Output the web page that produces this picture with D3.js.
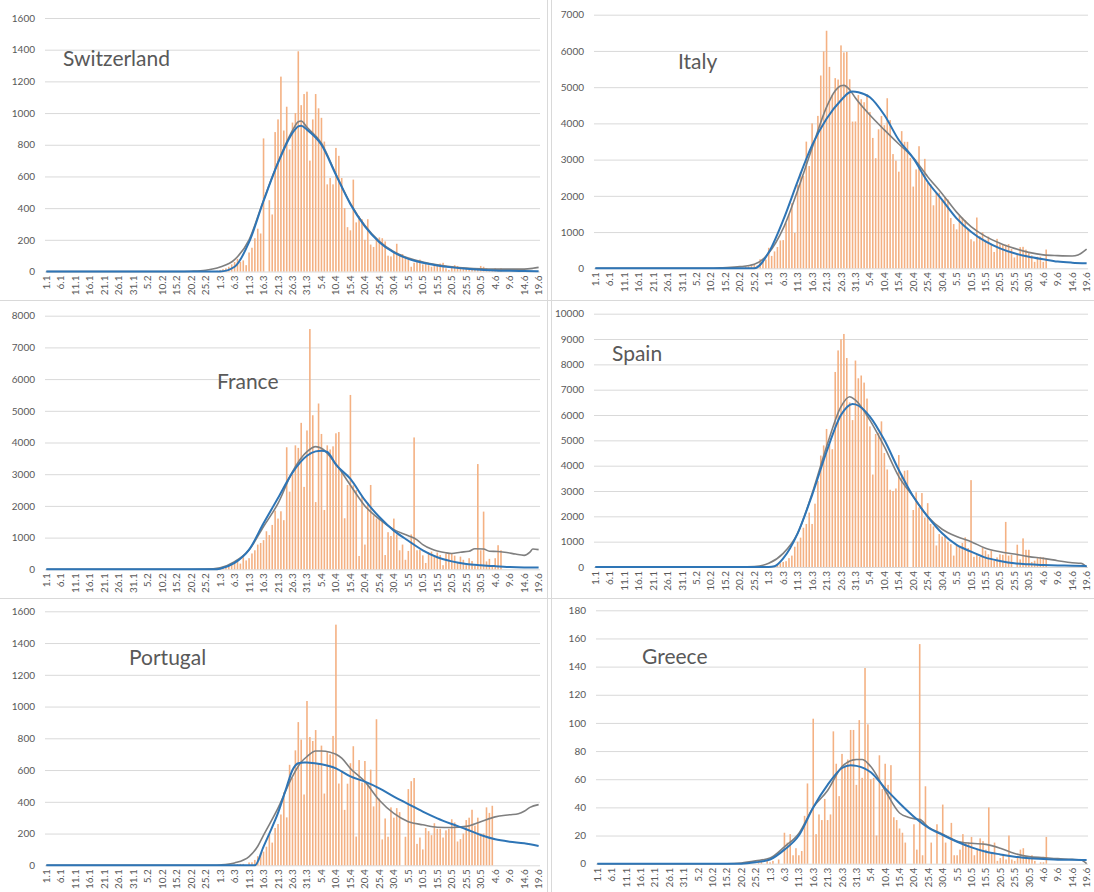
<!DOCTYPE html>
<html>
<head>
<meta charset="utf-8">
<script src="https://cdn.jsdelivr.net/npm/d3@7"></script>
<style>
  body { margin: 0; background: #fff; }
  text { font-family: Lato, "Open Sans", sans-serif; fill: #595959; }
</style>
</head>
<body>
<svg id="chart" width="1094" height="892"></svg>
<script>
// Categories: one per day, 1.1 to 19.6 (2020)
var days = d3.timeDay.range(new Date(2020, 0, 1), new Date(2020, 5, 20)).map(d3.timeFormat("%-d.%-m"));

var xTicks = ["1.1","6.1","11.1","16.1","21.1","26.1","31.1","5.2","10.2","15.2","20.2","25.2",
  "1.3","6.3","11.3","16.3","21.3","26.3","31.3","5.4","10.4","15.4","20.4","25.4","30.4",
  "5.5","10.5","15.5","20.5","25.5","30.5","4.6","9.6","14.6","19.6"];

// daily bars start on this day
var barStart = "20.2";

// ---- Switzerland
var swissBars = [0,0,0,0,0, 1,0,2,3,5, 10,15,20,30,45, 60,80,60,70,40, 120,150,210,270,240,
  840,0,450,360,880, 960,1230,890,1040,770, 940,1000,1390,1050,1120, 1135,700,960,1120,1030,
  970,820,550,590,550, 780,730,590,400,280, 260,580,310,350,330, 200,330,170,155,205,
  215,210,190,100,95, 120,175,110,110,85, 75,30,55,70,75, 45,55,40,30,45,
  40,50,55,20,10, 35,40,35,20,15, 15,10,15,10,15, 35,30,20,10,15, 20,15,20];
var swissAvg = [["1.1",0],["15.2",0],["20.2",2],["25.2",8],["1.3",28],["6.3",75],["11.3",200],["16.3",450],
  ["21.3",690],["26.3",890],["28.3",945],["29.3",950],["31.3",910],["5.4",810],["10.4",615],["15.4",430],
  ["20.4",290],["25.4",190],["30.4",125],["5.5",85],["10.5",60],["15.5",42],["20.5",30],["25.5",22],
  ["30.5",17],["4.6",15],["9.6",15],["14.6",15],["17.6",20],["19.6",26]];
var swissFit = [["1.1",0],["26.2",0],["1.3",0],["6.3",30],["11.3",185],["16.3",445],["21.3",685],["26.3",875],
  ["28.3",916],["29.3",920],["31.3",895],["5.4",800],["10.4",610],["15.4",425],["20.4",285],["25.4",185],
  ["30.4",120],["5.5",80],["10.5",55],["15.5",38],["20.5",26],["25.5",17],["30.5",11],["4.6",7],["9.6",4],
  ["14.6",3],["19.6",2]];

// ---- Italy
var italyBars = [0,17,62,55,71, 93,78,250,238,240, 566,342,466,587,769, 778,1247,1492,1797,977,
  2313,2651,2547,3497,2823, 4000,3526,4207,5322,5986, 6557,5560,4789,5249,5210, 6153,5959,5974,5217,4050,
  4053,4782,4668,4585,4805, 4316,3599,3039,3836,4204, 3951,4694,4092,3153,2972, 2667,3786,3493,3491,3047,
  2256,2729,3370,2646,3021, 2357,2324,1739,2091,2086, 1872,1965,1900,1389,1221, 1075,1444,1401,1327,1083,
  802,744,1402,888,992, 789,875,675,451,813, 665,642,652,669,531, 300,397,584,593,516,
  416,355,178,318,321, 177,518];
var italyAvg = [["1.1",0],["10.2",0],["13.2",15],["20.2",45],["25.2",110],["1.3",420],["6.3",1100],["11.3",2150],
  ["16.3",3320],["21.3",4450],["24.3",4900],["26.3",5040],["27.3",5050],["29.3",4930],["31.3",4700],["5.4",4230],
  ["10.4",3820],["15.4",3430],["20.4",3050],["25.4",2530],["30.4",2060],["5.5",1550],["10.5",1150],["15.5",880],
  ["20.5",690],["25.5",550],["30.5",440],["4.6",370],["9.6",350],["14.6",340],["16.6",370],["19.6",530]];
var italyFit = [["1.1",0],["25.2",0],["1.3",440],["6.3",1330],["11.3",2400],["16.3",3400],["21.3",4130],
  ["26.3",4640],["29.3",4860],["30.3",4880],["1.4",4860],["5.4",4720],["10.4",4230],["15.4",3540],["20.4",3040],
  ["25.4",2390],["30.4",1890],["5.5",1380],["10.5",1010],["15.5",740],["20.5",550],["25.5",414],["30.5",320],
  ["4.6",250],["9.6",185],["14.6",155],["19.6",140]];

// ---- France
var franceBars = [0,0,0,0,2, 4,20,38,20,40, 30,60,80,90,150, 200,300,180,380,280,
  350,500,600,780,830, 920,1200,1080,1400,1850, 1600,1830,1550,3850,2450, 3000,3910,3830,4620,2600,
  4380,7580,4860,2120,5230, 4270,1870,3910,3780,3880, 4290,4330,3100,1610,2660, 5500,2650,2500,420,2300,
  780,2100,2660,1700,1600, 1600,1500,450,1170,1050, 1600,1100,600,780,300, 580,1100,4160,600,620,
  440,200,540,560,400, 530,450,130,500,480, 500,430,200,400,300, 130,350,260,110,3320,
  600,1820,250,330,100, 350,760,600];
var franceAvg = [["1.1",0],["20.2",0],["25.2",5],["1.3",50],["6.3",240],["11.3",610],["16.3",1350],["21.3",2080],
  ["26.3",3080],["31.3",3710],["3.4",3870],["5.4",3820],["10.4",3320],["15.4",2650],["20.4",2000],["25.4",1580],
  ["30.4",1250],["5.5",1060],["8.5",930],["10.5",780],["13.5",640],["15.5",580],["18.5",520],["20.5",500],
  ["23.5",540],["26.5",570],["28.5",650],["31.5",640],["2.6",570],["5.6",560],["8.6",530],["11.6",480],
  ["14.6",440],["16.6",540],["17.6",640],["19.6",620]];
var franceFit = [["1.1",0],["28.2",0],["1.3",20],["6.3",200],["11.3",620],["16.3",1450],["21.3",2250],["26.3",3050],
  ["31.3",3580],["3.4",3720],["5.4",3740],["7.4",3700],["10.4",3300],["15.4",2850],["20.4",2180],["25.4",1650],
  ["30.4",1220],["5.5",900],["10.5",600],["15.5",380],["20.5",250],["25.5",170],["30.5",130],["4.6",100],
  ["9.6",75],["14.6",60],["19.6",55]];

// ---- Spain
var spainBars = [0,0,0,0,0, 2,5,5,10,15, 30,40,50,100,150, 200,230,350,450,800,
  1000,1160,1550,1700,2150, 1700,2500,3400,4400,4800, 5450,4850,4650,7700,8550, 8990,9200,8250,6500,5800,
  8150,7450,7560,7280,6650, 5550,3650,5250,5300,5750, 4500,3850,3050,3000,3100, 4420,3650,3800,3820,0,
  2250,2950,2350,2920,1950, 2520,1700,1600,850,1300, 1200,1250,1000,900,450, 850,820,950,1170,750,
  3430,400,500,400,750, 650,500,650,250,380, 500,480,1780,450,480, 0,880,300,1130,680,
  680,200,250,350,400, 380,350,0];
var spainAvg = [["1.1",0],["15.2",0],["25.2",20],["1.3",145],["6.3",540],["11.3",1330],["16.3",2900],["21.3",4750],
  ["26.3",6330],["29.3",6720],["31.3",6590],["5.4",5800],["10.4",4750],["15.4",3570],["20.4",2780],["25.4",1990],
  ["30.4",1490],["5.5",1200],["10.5",1000],["15.5",740],["20.5",605],["25.5",510],["30.5",410],["4.6",340],
  ["9.6",250],["14.6",170],["17.6",145],["19.6",0]];
var spainFit = [["1.1",0],["1.3",0],["3.3",30],["6.3",340],["11.3",1330],["16.3",2840],["21.3",4550],["26.3",6000],
  ["30.3",6440],["31.3",6420],["5.4",5940],["10.4",5010],["15.4",3830],["20.4",2780],["25.4",1990],["30.4",1330],
  ["5.5",870],["10.5",605],["15.5",370],["20.5",240],["25.5",145],["30.5",105],["4.6",80],["9.6",60],
  ["14.6",50],["19.6",40]];

// ---- Portugal
var portugalBars = [0,0,0,0,0, 0,0,0,0,0, 0,2,2,2,3, 4,8,9,9,2,
  18,19,34,57,76, 86,117,194,143,235, 260,320,460,302,633, 549,724,902,792,446,
  1035,808,783,852,638, 754,452,712,699,815, 1516,515,598,349,514, 643,750,181,663,521,
  657,516,603,371,920, 420,163,295,180,365, 300,360,335,0,180, 480,530,550,135,175,
  100,235,215,190,265, 230,230,175,220,230, 290,270,150,165,200, 285,300,350,250,300,
  200,200,365,330,375];
var portugalAvg = [["1.1",0],["28.2",0],["1.3",2],["6.3",15],["11.3",55],["14.3",120],["16.3",190],["21.3",360],
  ["26.3",560],["29.3",650],["31.3",685],["3.4",720],["5.4",720],["8.4",712],["10.4",700],["12.4",675],
  ["15.4",610],["20.4",527],["25.4",410],["30.4",327],["5.5",275],["10.5",255],["15.5",240],["20.5",238],
  ["25.5",245],["30.5",275],["4.6",305],["9.6",318],["12.6",325],["14.6",340],["16.6",365],["19.6",382]];
var portugalFit = [["1.1",0],["13.3",0],["16.3",118],["18.3",200],["21.3",330],["24.3",495],["26.3",600],
  ["28.3",643],["30.3",648],["31.3",647],["5.4",636],["10.4",611],["15.4",560],["20.4",527],["25.4",485],
  ["30.4",433],["5.5",386],["10.5",338],["15.5",296],["20.5",260],["25.5",227],["30.5",191],["4.6",164],
  ["9.6",149],["14.6",139],["19.6",122]];

// ---- Greece
var greeceBars = [0,0,0,0,0, 0,1,2,0,3, 1,2,0,3,0, 22,15,21,6,11,
  6,9,34,57,0, 103,21,35,31,46, 31,35,94,71,48, 78,69,74,95,95,
  56,102,61,139,99, 60,61,20,77,53, 71,56,70,33,31, 25,22,15,0,0,
  28,10,156,6,55, 0,15,0,28,0, 42,15,0,29,6, 6,10,21,15,15,
  19,6,10,18,16, 10,40,8,15,2, 4,7,3,20,3, 2,5,10,11,4,
  4,6,2,0,1, 1,19];
var greeceAvg = [["1.1",0],["15.2",0],["20.2",0.5],["25.2",2],["1.3",4],["6.3",12],["11.3",21.5],["16.3",40],
  ["21.3",52],["26.3",69],["31.3",74],["2.4",74],["5.4",69],["10.4",52],["15.4",36],["18.4",33],["20.4",32],
  ["22.4",31.5],["25.4",26],["30.4",21],["5.5",16],["10.5",14.5],["15.5",13.7],["20.5",11],["25.5",7.3],
  ["30.5",5],["4.6",4.3],["9.6",3.6],["14.6",3.1],["17.6",2.6],["19.6",0]];
var greeceFit = [["1.1",0],["20.2",0],["25.2",1],["1.3",3],["6.3",10],["11.3",20],["16.3",40],["21.3",56],
  ["26.3",68],["29.3",70],["31.3",69.5],["5.4",65],["10.4",53.5],["15.4",43],["20.4",33.4],["25.4",25.6],
  ["30.4",20.4],["5.5",15.6],["10.5",11.6],["15.5",8.5],["20.5",6.6],["25.5",5],["30.5",3.8],["4.6",3.3],
  ["9.6",2.8],["14.6",2.8],["19.6",2.6]];

// panel table
var panels = [
  {name: "Switzerland", bars: swissBars, avg: swissAvg, fit: swissFit, yMax: 1600, yStep: 200,
   left: 45, right: 540, top: 18, bottom: 271.5, titleX: 63, titleY: 66},
  {name: "Italy", bars: italyBars, avg: italyAvg, fit: italyFit, yMax: 7000, yStep: 1000,
   left: 594, right: 1088, top: 14.7, bottom: 268.3, titleX: 678, titleY: 69},
  {name: "France", bars: franceBars, avg: franceAvg, fit: franceFit, yMax: 8000, yStep: 1000,
   left: 45, right: 540, top: 315.7, bottom: 569.3, titleX: 217, titleY: 389},
  {name: "Spain", bars: spainBars, avg: spainAvg, fit: spainFit, yMax: 10000, yStep: 1000,
   left: 594, right: 1088, top: 313.7, bottom: 567, titleX: 612, titleY: 361},
  {name: "Portugal", bars: portugalBars, avg: portugalAvg, fit: portugalFit, yMax: 1600, yStep: 200,
   left: 45, right: 540, top: 611.3, bottom: 865.3, titleX: 129, titleY: 665},
  {name: "Greece", bars: greeceBars, avg: greeceAvg, fit: greeceFit, yMax: 180, yStep: 20,
   left: 596, right: 1088, top: 610.3, bottom: 863.7, titleX: 642, titleY: 664}
];

var svg = d3.select("#chart");

// thin panel frames
var frame = svg.append("g").attr("stroke", "#d9d9d9").attr("stroke-width", 1);
frame.append("line").attr("x1", 547.5).attr("x2", 547.5).attr("y1", 0).attr("y2", 892);
frame.append("line").attr("x1", 551.5).attr("x2", 551.5).attr("y1", 0).attr("y2", 892);
frame.append("line").attr("x1", 0).attr("x2", 1094).attr("y1", 300.5).attr("y2", 300.5);
frame.append("line").attr("x1", 0).attr("x2", 1094).attr("y1", 598.5).attr("y2", 598.5);

var startIndex = days.indexOf(barStart);

panels.forEach(function(p) {
  var g = svg.append("g");

  var x = d3.scaleBand()
    .domain(days)
    .range([p.left, p.right])
    .paddingInner(0.45)
    .paddingOuter(0.2);
  var half = x.bandwidth() / 2;

  var y = d3.scaleLinear()
    .domain([0, p.yMax])
    .range([p.bottom, p.top]);

  // gridlines + y labels
  g.append("g")
    .attr("transform", `translate(${p.left},0)`)
    .call(d3.axisLeft(y)
      .tickValues(d3.range(0, p.yMax + 1, p.yStep))
      .tickSize(-(p.right - p.left))
      .tickPadding(10)
      .tickFormat(d3.format("d")))
    .call(function(a) {
      a.select(".domain").remove();
      a.selectAll("line").attr("stroke", "#d9d9d9").attr("stroke-width", 1);
      a.selectAll("text").attr("font-size", "10px").attr("fill", "#595959");
    });

  // x labels, rotated
  g.append("g")
    .attr("transform", `translate(0,${p.bottom})`)
    .call(d3.axisBottom(x).tickValues(xTicks).tickSize(0).tickPadding(0))
    .call(function(a) {
      a.select(".domain").remove();
      a.selectAll("text")
        .attr("transform", "rotate(-90)")
        .attr("text-anchor", "end")
        .attr("x", -4)
        .attr("y", 0)
        .attr("dy", "0.35em")
        .attr("font-size", "10px")
        .attr("fill", "#595959");
    });

  // daily bars
  g.append("g").selectAll("rect")
    .data(p.bars)
    .enter()
    .append("rect")
    .attr("x", (d, i) => x(days[startIndex + i]))
    .attr("y", d => y(d))
    .attr("width", x.bandwidth())
    .attr("height", d => p.bottom - y(d))
    .attr("fill", "#f4b183");

  var line = d3.line()
    .x(d => x(d[0]) + half)
    .y(d => y(d[1]))
    .curve(d3.curveMonotoneX);

  // smoothed average (grey)
  g.append("path")
    .datum(p.avg)
    .attr("d", line)
    .attr("fill", "none")
    .attr("stroke", "#7f7f7f")
    .attr("stroke-width", 1.6);

  // fitted curve (blue)
  g.append("path")
    .datum(p.fit)
    .attr("d", line)
    .attr("fill", "none")
    .attr("stroke", "#2e75b6")
    .attr("stroke-width", 2);

  // title
  g.append("text")
    .attr("x", p.titleX)
    .attr("y", p.titleY)
    .attr("font-size", "21px")
    .attr("fill", "#595959")
    .text(p.name);
});
</script>
</body>
</html>
